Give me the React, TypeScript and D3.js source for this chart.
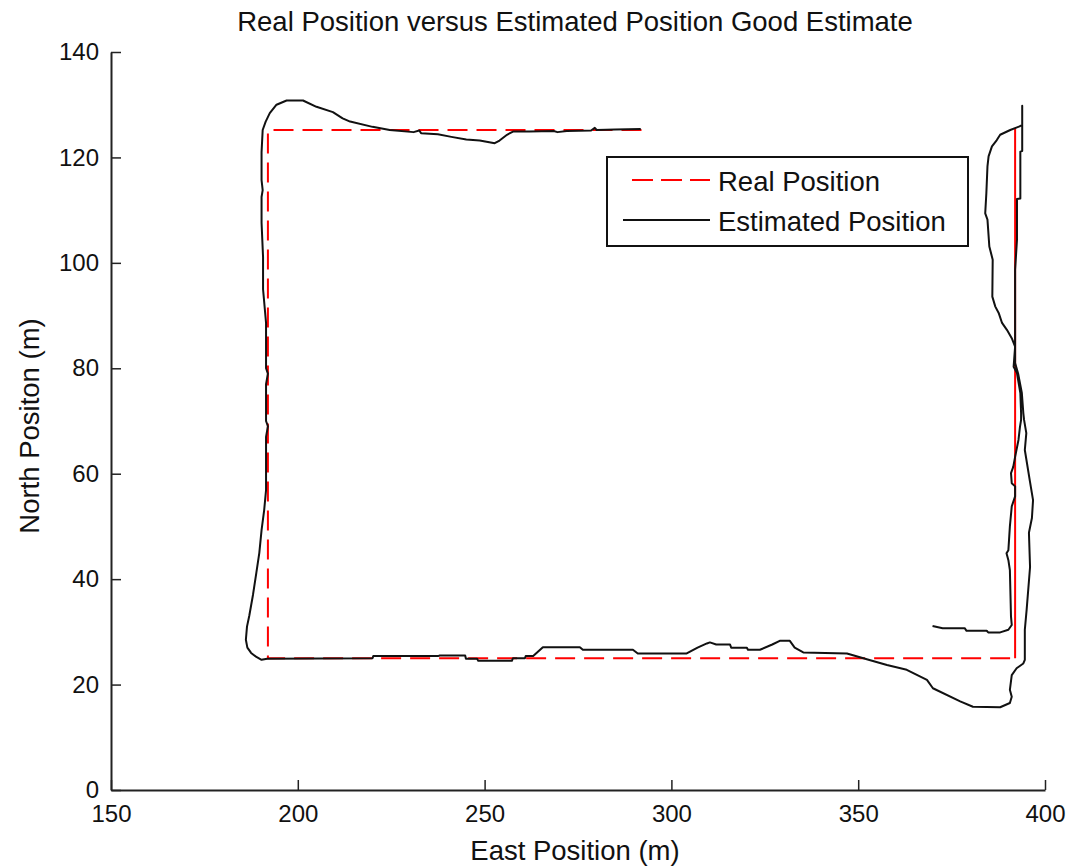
//@ts-nocheck
import { useEffect, useRef } from 'react';
import * as d3 from 'd3';

// Real (commanded) path, metres
const realEast = [292, 192, 192, 392, 392, 392];
const realNorth = [125.2, 125.2, 25, 25, 125.5, 25];

// Estimated path, metres
const estEast = [
    291.8, 285, 280, 279.5, 278.5, 272, 269.5, 268.5, 262, 257.6, 256, 254, 252.7, 248.7, 245.1, 241.1,
    237.5, 233, 232.5, 231, 224.6, 220, 214, 212, 209.4, 205, 201.4, 197, 194.3, 192.5, 191.4, 190.6,
    190.3, 190.3, 190.6, 190.3, 190.3, 190.7, 190.7, 191.5, 191.5, 192, 191.5, 191.5, 192, 191.5, 191.5,
    191, 190.3, 189.7, 188.9, 188, 187.5, 187, 186.4, 186.1, 186.5, 187.5, 188.8, 190.3, 191.8,
    220, 220.2, 237.5, 238, 244.8, 245, 248, 248.3, 257.3, 257.6, 260.8, 261, 263, 265.6, 275.5, 276.3,
    289.7, 291, 304.1, 307, 309.5, 310.3, 312, 315.7, 316, 320.2, 320.5, 323.7, 327, 329, 331.7, 333,
    335.3, 347, 352.3, 357.7, 363, 368.4, 370, 377.3, 380.7, 388, 390.6, 391.1, 390.6, 391.1, 392.4,
    394.2, 394.6, 394.6, 395.1, 396, 395.7, 396.5, 396.8, 396, 394.6, 395, 394.4, 394.2, 393.8, 392.8,
    392, 392, 392, 392.5, 392.5, 393.4, 393.4, 393.9, 393.9,
    393.9, 393.2, 390.7, 388, 387.1, 385.8, 384.9, 384.6, 384.3, 384, 384.6, 385.1, 386, 385.9, 386.7,
    387.6, 388.5, 389.8, 391.1, 392, 391.6, 392.5, 392.8, 393.4, 393.6, 393.6, 393.3, 392.9, 392, 391.5,
    390.9, 391.1, 392, 392, 391.1, 390.6, 390.2, 389.7, 390.2, 390.6, 390.9, 391.1, 390.2, 388, 384.8,
    384.4, 379, 378.5, 372.6, 369.9,
];
const estNorth = [
    125.4, 125.3, 125.2, 125.6, 125.1, 125.0, 124.8, 125.0, 124.9, 124.9, 124.3, 123.2, 122.7, 123.2, 123.4, 123.9,
    124.4, 124.6, 125.1, 124.8, 125.2, 125.8, 126.8, 127.4, 128.6, 129.6, 130.8, 130.8, 130, 128.4, 126.8, 125.2,
    121, 115.7, 113.8, 112.5, 107.6, 101.1, 95, 88.6, 80, 79, 77, 70, 69, 67, 56.9,
    53.1, 49.3, 45, 41.2, 37, 35, 33, 31, 28.5, 27, 26, 25.3, 24.7, 24.9,
    25, 25.4, 25.4, 25.5, 25.5, 24.9, 24.9, 24.5, 24.5, 25, 25, 25.4, 25.4, 27.1, 27.1, 26.6,
    26.6, 25.9, 25.9, 27, 27.8, 28, 27.6, 27.6, 27, 27, 26.6, 26.6, 27.6, 28.3, 28.3, 27,
    26.1, 25.9, 24.8, 23.7, 22.8, 20.9, 19.3, 16.8, 15.8, 15.7, 16.5, 17.7, 19, 21.8, 23.1,
    24, 24.7, 30.4, 34.3, 42.3, 48.8, 51.6, 55, 58.4, 64.5, 67.7, 70.2, 71.5, 75.3, 79,
    81, 86.7, 98.7, 104.4, 112.1, 112.2, 121.1, 121.2, 129.8,
    126.2, 125.9, 125.2, 124.3, 123.3, 122.1, 120.2, 118.3, 113.2, 109.4, 108.2, 103.1, 100.6, 93.6, 91.7,
    90.5, 88.6, 87.3, 85.7, 84.1, 80.3, 79.1, 77.8, 75.3, 71.5, 70.2, 68.9, 66.4, 63.2, 61.3,
    60.1, 58.2, 57.6, 55.7, 53.8, 50, 45.5, 44.9, 43.6, 41.7, 32.9, 31.3, 30.4, 29.9, 29.9,
    30.2, 30.2, 30.7, 30.7, 31.1,
];

const xTicks = [150, 200, 250, 300, 350, 400];
const yTicks = [0, 20, 40, 60, 80, 100, 120, 140];
const legendLabels = ['Real Position', 'Estimated Position'];

const App = () => {
    const svgRef = useRef();

    useEffect(() => {
        document.body.style.margin = '0';
        const svg = d3.select(svgRef.current);
        svg.selectAll('*').remove();

        const font = '"Liberation Sans", Arial, sans-serif';
        const x = d3.scaleLinear().domain([150, 400]).range([111, 1045]);
        const y = d3.scaleLinear().domain([0, 140]).range([790, 52]);

        // Title
        svg.append('text')
            .attr('x', 575)
            .attr('y', 31)
            .attr('text-anchor', 'middle')
            .style('font-family', font)
            .style('font-size', '27.5px')
            .attr('fill', '#111')
            .text('Real Position versus Estimated Position Good Estimate');

        // Axes (ticks pointing inward, MATLAB style)
        const xAxis = svg.append('g')
            .attr('transform', `translate(0,${y(0)})`)
            .call(d3.axisBottom(x).tickValues(xTicks).tickSizeInner(-10).tickSizeOuter(0).tickPadding(15));
        const yAxis = svg.append('g')
            .attr('transform', `translate(${x(150)},0)`)
            .call(d3.axisLeft(y).tickValues(yTicks).tickSizeInner(-10).tickSizeOuter(0).tickPadding(12));

        [xAxis, yAxis].forEach(a => {
            a.select('.domain').attr('stroke', '#222').attr('stroke-width', 2);
            a.selectAll('.tick line').attr('stroke', '#222').attr('stroke-width', 1.5);
            a.selectAll('.tick text')
                .style('font-family', font)
                .style('font-size', '24px')
                .attr('fill', '#111');
        });

        // Axis labels
        svg.append('text')
            .attr('x', 575)
            .attr('y', 860)
            .attr('text-anchor', 'middle')
            .style('font-family', font)
            .style('font-size', '27.5px')
            .attr('fill', '#111')
            .text('East Position (m)');

        svg.append('text')
            .attr('transform', `translate(39,${426}) rotate(-90)`)
            .attr('text-anchor', 'middle')
            .style('font-family', font)
            .style('font-size', '27.5px')
            .attr('fill', '#111')
            .text('North Positon (m)');

        const line = d3.line()
            .x(d => x(d[0]))
            .y(d => y(d[1]));

        const real = d3.zip(realEast, realNorth);
        const est = d3.zip(estEast, estNorth);

        svg.append('path')
            .datum(real)
            .attr('d', line)
            .attr('fill', 'none')
            .attr('stroke', '#ff0000')
            .attr('stroke-width', 2)
            .attr('stroke-dasharray', '20,9');

        svg.append('path')
            .datum(est)
            .attr('d', line)
            .attr('fill', 'none')
            .attr('stroke', '#111')
            .attr('stroke-width', 2)
            .attr('stroke-linejoin', 'round');

        // Legend
        const legend = svg.append('g').attr('transform', 'translate(607,157)');
        legend.append('rect')
            .attr('width', 361)
            .attr('height', 89)
            .attr('fill', '#fff')
            .attr('stroke', '#111')
            .attr('stroke-width', 2);

        legendLabels.forEach((label, i) => {
            const ly = 23 + i * 40;
            legend.append('line')
                .attr('x1', i === 0 ? 25 : 16)
                .attr('x2', 103)
                .attr('y1', ly)
                .attr('y2', ly)
                .attr('stroke', i === 0 ? '#ff0000' : '#111')
                .attr('stroke-width', 2)
                .attr('stroke-dasharray', i === 0 ? '21,8' : null);
            legend.append('text')
                .attr('x', 111)
                .attr('y', ly + 11)
                .style('font-family', font)
                .style('font-size', '27.5px')
                .attr('fill', '#111')
                .text(label);
        });
    }, []);

    return (
        <svg ref={svgRef} width={1072} height={868} style={{ display: 'block', background: '#fff' }}></svg>
    );
};

export default App;
